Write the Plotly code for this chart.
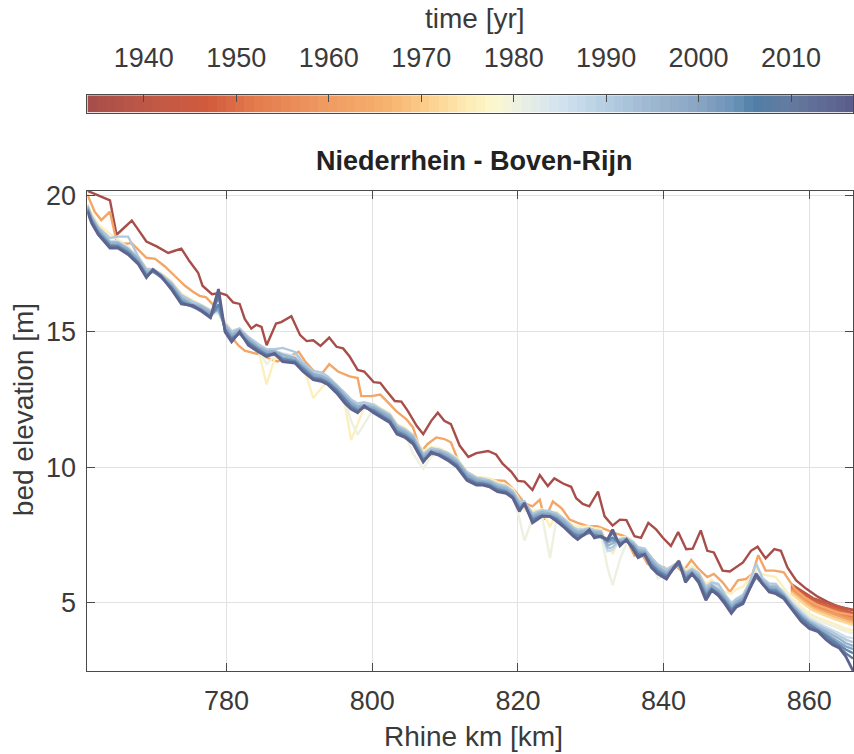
import plotly.graph_objects as go
from plotly.colors import sample_colorscale

# ---------------- data ----------------
km_red = [760.9, 764.0, 764.9, 767.0, 767.9, 769.0, 770.4, 772.0, 772.9, 773.8, 774.9, 776.1, 776.7, 778.0, 779.1,
          780.0, 780.9, 781.8, 782.5, 783.4, 784.1, 784.8, 785.5, 786.8, 787.5, 788.9, 790.1, 791.0, 791.9, 792.9,
          794.1, 795.1, 796.0, 796.9, 798.0, 798.9, 800.2, 801.1, 802.0, 803.1, 804.0, 804.9, 806.1, 807.0, 808.1,
          809.0, 809.9, 810.8, 812.0, 813.2, 814.3, 815.9, 817.0, 817.9, 819.1, 820.0, 820.9, 822.0, 823.0, 824.1,
          825.0, 826.2, 827.3, 828.0, 828.9, 829.8, 831.0, 831.9, 833.0, 834.0, 834.9, 836.0, 836.9, 837.9, 839.0,
          839.9, 841.0, 842.0, 843.1, 844.0, 845.1, 846.0, 846.9, 848.1, 849.1, 850.9, 852.0, 852.9, 854.0, 855.2,
          856.1, 857.0, 858.2, 859.6, 861.2, 862.5, 864.1, 866.0]
z_red = [20.19, 19.84, 18.57, 19.09, 18.75, 18.32, 18.14, 17.90, 17.98, 18.06, 17.60, 17.17, 16.69, 16.38, 16.42,
         16.35, 16.08, 16.02, 15.47, 15.11, 15.25, 15.17, 14.50, 15.30, 15.35, 15.57, 14.87, 14.65, 14.68, 14.47,
         14.78, 14.44, 14.38, 14.08, 13.59, 13.53, 13.14, 13.11, 12.80, 12.44, 12.42, 12.07, 11.53, 11.22, 11.71,
         12.01, 11.71, 11.59, 10.80, 10.38, 10.52, 10.60, 10.47, 10.13, 9.83, 9.50, 9.47, 9.16, 9.71, 9.31,
         9.59, 9.40, 9.28, 8.86, 8.65, 8.56, 9.10, 8.19, 7.85, 8.07, 8.05, 7.46, 7.40, 7.95, 7.70,
         7.40, 7.10, 7.61, 6.98, 7.00, 7.67, 6.92, 6.86, 6.19, 6.16, 6.49, 6.92, 7.07, 6.64, 6.98,
         6.92, 6.31, 5.83, 5.52, 5.22, 5.04, 4.85, 4.75]

km_orange = [760.9, 761.9, 762.8, 764.0, 764.9, 766.1, 767.0, 768.1, 769.0, 770.2, 771.5, 772.9, 774.3, 775.4, 776.3,
             777.2, 778.7, 779.8, 780.7, 781.6, 782.5, 783.9, 784.8, 785.9, 787.0, 788.0, 789.9, 790.8, 791.8, 792.8,
             794.1, 795.3, 796.9, 798.0, 798.5, 799.9, 801.1, 802.0, 803.3, 804.7, 805.6, 806.7, 807.6, 808.8, 809.9,
             810.8, 811.8, 813.0, 814.3, 815.4, 816.8, 818.2, 819.5, 820.9, 822.0, 823.0, 823.7, 824.8, 826.0, 827.1,
             828.2, 829.6, 830.9, 832.1, 833.2, 834.7, 836.0, 836.9, 837.8, 839.0, 840.1, 841.0, 841.7, 842.6, 843.8,
             844.8, 846.0, 846.9, 848.1, 849.1, 850.2, 851.3, 852.2, 853.0, 854.0, 855.2, 856.5, 858.0, 859.4, 860.9,
             862.4, 863.9, 866.0]
z_orange = [20.05, 19.42, 19.11, 19.42, 18.32, 18.24, 18.26, 17.96, 17.72, 17.68, 17.41, 17.05, 16.69, 16.47, 16.32,
            16.26, 15.84, 15.20, 14.80, 14.50, 14.30, 14.20, 14.14, 14.00, 13.90, 14.00, 14.26, 13.90, 13.60, 13.35,
            13.80, 13.53, 13.35, 13.29, 12.62, 12.62, 12.68, 12.44, 12.07, 11.77, 11.47, 10.56, 10.86, 11.10, 11.04,
            10.92, 10.25, 9.77, 9.59, 9.59, 9.52, 9.50, 9.16, 8.68, 8.56, 8.80, 8.07, 8.74, 8.49, 8.07,
            7.95, 7.83, 7.83, 7.70, 7.58, 7.46, 6.74, 6.86, 6.43, 6.31, 6.31, 6.13, 6.37, 6.13, 6.58,
            6.25, 5.95, 6.07, 5.76, 5.40, 5.83, 5.88, 6.07, 6.76, 6.19, 6.19, 6.13, 5.52, 5.20, 4.95,
            4.80, 4.65, 4.55]

km_main = [760.9, 761.5, 762.4, 764.0, 765.1, 766.5, 767.9, 769.0, 769.9, 771.0,
           772.4, 773.8, 775.4, 776.5, 777.8, 778.9, 779.8, 780.7, 781.8, 783.0,
           784.3, 785.5, 786.6, 787.7, 789.4, 790.5, 791.9, 793.0, 793.9, 795.1,
           796.2, 797.1, 798.0, 798.9, 800.2, 801.3, 802.4, 803.4, 804.5, 805.6,
           807.0, 808.1, 809.2, 810.4, 811.6, 813.0, 814.3, 815.2, 816.1, 817.2,
           818.4, 819.3, 820.2, 820.9, 822.0, 823.3, 824.4, 825.3, 826.4, 827.6,
           828.2, 829.1, 829.8, 830.5, 831.4, 832.3, 833.0, 834.0, 834.9, 835.8,
           836.5, 837.4, 838.3, 839.2, 840.4, 841.4, 842.1, 843.0, 843.9, 844.8,
           845.8, 846.6, 847.5, 848.4, 849.3, 850.0, 850.9, 851.8, 852.7, 853.6,
           854.5, 855.4, 856.5, 857.7, 858.9, 860.0, 861.2, 862.3, 863.2, 864.1,
           865.0, 866.0]

z_1976 = [19.70, 19.35, 18.95, 18.60, 18.40, 18.10, 17.75, 17.35, 17.30, 17.15,
          16.88, 16.40, 16.15, 16.00, 15.80, 15.85, 15.35, 15.05, 15.10, 14.82,
          14.40, 13.05, 14.00, 14.05, 14.10, 13.80, 12.55, 12.90, 13.20, 13.05,
          12.40, 11.00, 11.60, 12.20, 12.35, 12.15, 12.00, 11.60, 11.45, 11.20,
          10.60, 10.75, 10.70, 10.55, 10.35, 9.85, 9.65, 9.62, 9.60, 9.45,
          9.35, 9.20, 8.80, 8.40, 8.40, 8.45, 7.80, 8.35, 8.12, 7.85,
          7.80, 7.80, 7.82, 7.75, 7.72, 7.20, 6.80, 7.40, 7.45, 7.30,
          7.00, 6.95, 6.70, 6.35, 6.25, 6.40, 6.55, 6.20, 6.35, 6.15,
          5.70, 5.85, 5.60, 5.40, 5.35, 5.50, 5.60, 5.90, 6.25, 6.05,
          6.00, 5.95, 5.55, 5.15, 4.85, 4.60, 4.45, 4.35, 4.25, 4.15,
          4.05, 3.98]
z_1981 = [19.58, 19.15, 18.72, 18.25, 18.22, 17.98, 17.62, 17.18, 17.22, 17.05,
          16.70, 16.20, 15.98, 15.88, 15.65, 15.65, 15.18, 14.85, 15.00, 14.68,
          14.35, 13.80, 14.10, 14.00, 13.95, 13.70, 13.30, 13.28, 13.15, 12.90,
          12.55, 11.70, 11.20, 11.60, 12.15, 12.00, 11.80, 11.40, 11.28, 10.50,
          9.95, 10.40, 10.50, 10.40, 10.18, 9.70, 9.50, 9.48, 9.42, 9.25,
          9.18, 8.98, 8.10, 7.30, 8.10, 8.20, 6.65, 8.10, 7.95, 7.65,
          7.58, 7.60, 7.62, 7.55, 7.52, 6.30, 5.65, 6.60, 7.20, 7.10,
          6.85, 6.85, 6.50, 5.90, 6.05, 6.25, 6.40, 6.00, 6.15, 5.95,
          5.45, 5.60, 5.45, 5.15, 4.70, 5.00, 5.15, 5.60, 5.95, 5.78,
          5.60, 5.58, 5.45, 5.05, 4.75, 4.50, 4.35, 4.25, 4.15, 4.05,
          3.95, 3.88]
z_1986 = [19.62, 19.20, 18.80, 18.35, 18.32, 18.10, 17.70, 17.25, 17.28, 17.10,
          16.78, 16.30, 16.05, 15.95, 15.72, 15.70, 15.25, 14.95, 15.08, 14.75,
          14.50, 14.30, 14.30, 14.20, 14.10, 13.80, 13.50, 13.42, 13.30, 13.00,
          12.70, 12.45, 12.30, 12.35, 12.25, 12.08, 11.90, 11.50, 11.35, 11.12,
          10.45, 10.65, 10.60, 10.48, 10.25, 9.78, 9.58, 9.55, 9.50, 9.35,
          9.26, 9.08, 8.70, 8.70, 8.25, 8.38, 8.35, 8.25, 8.02, 7.72,
          7.65, 7.68, 7.70, 7.65, 7.60, 6.90, 6.95, 7.32, 7.38, 7.22,
          7.00, 6.95, 6.62, 6.38, 6.18, 6.35, 6.48, 6.08, 6.22, 6.05,
          5.55, 5.70, 5.62, 5.28, 4.95, 5.10, 5.25, 5.70, 6.10, 5.85,
          5.68, 5.66, 5.40, 5.00, 4.68, 4.42, 4.25, 4.12, 4.00, 3.88,
          3.75, 3.70]
z_1991 = [19.65, 19.25, 18.85, 18.45, 18.50, 18.50, 17.75, 17.30, 17.30, 17.12,
          16.82, 16.35, 16.10, 15.98, 15.78, 15.75, 15.30, 15.00, 15.12, 14.80,
          14.55, 14.35, 14.35, 14.40, 14.25, 13.85, 13.55, 13.50, 13.35, 13.05,
          12.75, 12.50, 12.35, 12.40, 12.30, 12.12, 11.95, 11.55, 11.40, 11.18,
          10.50, 10.70, 10.65, 10.52, 10.30, 9.82, 9.62, 9.58, 9.52, 9.38,
          9.30, 9.12, 8.75, 8.75, 8.30, 8.42, 8.38, 8.30, 8.08, 7.78,
          7.70, 7.72, 7.75, 7.68, 7.65, 7.00, 7.05, 7.35, 7.40, 7.25,
          7.05, 7.00, 6.68, 6.42, 6.22, 6.40, 6.50, 6.12, 6.25, 6.10,
          5.60, 5.75, 5.70, 5.32, 5.00, 5.15, 5.30, 5.75, 6.45, 5.90,
          5.72, 5.70, 5.35, 4.95, 4.62, 4.35, 4.18, 4.05, 3.92, 3.78,
          3.65, 3.55]
z_1996 = [19.60, 19.18, 18.78, 18.30, 18.28, 18.05, 17.68, 17.20, 17.25, 17.08,
          16.75, 16.25, 16.00, 15.92, 15.70, 15.80, 15.22, 14.90, 15.05, 14.72,
          14.45, 14.28, 14.28, 14.15, 14.02, 13.75, 13.45, 13.38, 13.25, 12.98,
          12.65, 12.40, 12.25, 12.30, 12.22, 12.05, 11.88, 11.48, 11.32, 11.10,
          10.42, 10.62, 10.58, 10.45, 10.22, 9.75, 9.55, 9.50, 9.46, 9.30,
          9.22, 9.05, 8.65, 8.68, 8.22, 8.35, 8.30, 8.22, 8.00, 7.70,
          7.62, 7.65, 7.68, 7.62, 7.58, 7.10, 7.20, 7.30, 7.35, 7.18,
          6.95, 6.92, 6.58, 6.32, 6.12, 6.32, 6.45, 6.05, 6.18, 6.00,
          5.48, 5.65, 5.50, 5.22, 4.90, 5.05, 5.20, 5.65, 6.05, 5.82,
          5.62, 5.60, 5.30, 4.90, 4.55, 4.30, 4.10, 3.95, 3.82, 3.68,
          3.52, 3.42]
z_2000 = [19.55, 19.12, 18.70, 18.22, 18.20, 17.98, 17.60, 17.12, 17.20, 17.05,
          16.70, 16.18, 15.95, 15.85, 15.62, 15.85, 15.15, 14.82, 14.98, 14.65,
          14.40, 14.20, 14.22, 14.05, 13.95, 13.68, 13.38, 13.30, 13.18, 12.90,
          12.58, 12.32, 12.18, 12.25, 12.15, 11.98, 11.80, 11.40, 11.25, 11.02,
          10.35, 10.55, 10.52, 10.38, 10.15, 9.68, 9.48, 9.45, 9.40, 9.24,
          9.15, 8.98, 8.58, 8.62, 8.15, 8.28, 8.25, 8.15, 7.92, 7.62,
          7.55, 7.58, 7.62, 7.55, 7.50, 7.22, 7.30, 7.25, 7.30, 7.12,
          6.88, 6.85, 6.50, 6.25, 6.05, 6.28, 6.42, 5.98, 6.12, 5.92,
          5.38, 5.58, 5.42, 5.15, 4.82, 4.98, 5.12, 5.58, 5.98, 5.75,
          5.55, 5.52, 5.25, 4.85, 4.50, 4.25, 4.05, 3.88, 3.72, 3.55,
          3.40, 3.30]
z_2005 = [19.50, 19.08, 18.65, 18.18, 18.15, 17.92, 17.55, 17.08, 17.22, 17.00,
          16.65, 16.12, 15.90, 15.80, 15.55, 16.00, 15.08, 14.75, 14.92, 14.60,
          14.35, 14.15, 14.18, 13.98, 13.90, 13.62, 13.30, 13.25, 13.12, 12.85,
          12.50, 12.25, 12.10, 12.20, 12.10, 11.92, 11.72, 11.32, 11.18, 10.95,
          10.28, 10.50, 10.48, 10.32, 10.10, 9.60, 9.42, 9.40, 9.35, 9.18,
          9.10, 8.92, 8.50, 8.60, 8.08, 8.22, 8.20, 8.10, 7.85, 7.55,
          7.48, 7.52, 7.58, 7.50, 7.45, 7.28, 7.40, 7.20, 7.28, 7.08,
          6.80, 6.80, 6.42, 6.18, 5.98, 6.25, 6.45, 5.90, 6.08, 5.85,
          5.28, 5.52, 5.35, 5.08, 4.75, 4.92, 5.05, 5.52, 5.95, 5.70,
          5.48, 5.45, 5.22, 4.80, 4.45, 4.20, 4.00, 3.80, 3.62, 3.45,
          3.28, 3.15]
z_2010 = [19.45, 19.02, 18.60, 18.12, 18.10, 17.86, 17.50, 17.02, 17.25, 17.02,
          16.60, 16.05, 15.92, 15.75, 15.50, 16.30, 15.02, 14.68, 14.95, 14.55,
          14.30, 14.10, 14.15, 13.92, 13.86, 13.55, 13.25, 13.20, 13.08, 12.78,
          12.42, 12.18, 12.05, 12.22, 12.05, 11.86, 11.68, 11.25, 11.12, 10.90,
          10.22, 10.52, 10.45, 10.28, 10.05, 9.55, 9.38, 9.36, 9.30, 9.12,
          9.06, 8.88, 8.42, 8.62, 8.00, 8.20, 8.18, 8.05, 7.80, 7.50,
          7.40, 7.50, 7.62, 7.45, 7.42, 7.30, 7.60, 7.15, 7.30, 7.02,
          6.72, 6.78, 6.35, 6.12, 5.92, 6.28, 6.50, 5.82, 6.05, 5.80,
          5.18, 5.48, 5.30, 5.02, 4.68, 4.88, 5.00, 5.50, 6.00, 5.68,
          5.42, 5.38, 5.20, 4.76, 4.38, 4.12, 3.98, 3.72, 3.55, 3.38,
          3.15, 2.95]
z_2015 = [19.42, 18.99, 18.57, 18.08, 18.08, 17.84, 17.48, 16.99, 17.29, 17.05,
          16.57, 16.02, 15.96, 15.78, 15.53, 16.57, 14.99, 14.62, 14.99, 14.50,
          14.26, 14.08, 14.20, 13.89, 13.84, 13.53, 13.23, 13.17, 13.05, 12.74,
          12.38, 12.14, 12.01, 12.26, 12.01, 11.83, 11.65, 11.22, 11.10, 10.86,
          10.19, 10.56, 10.43, 10.25, 10.01, 9.52, 9.34, 9.34, 9.28, 9.10,
          9.04, 8.86, 8.37, 8.68, 7.95, 8.19, 8.19, 8.01, 7.77, 7.46,
          7.34, 7.52, 7.70, 7.40, 7.46, 7.34, 7.70, 7.10, 7.34, 6.98,
          6.67, 6.79, 6.31, 6.07, 5.88, 6.31, 6.55, 5.76, 6.07, 5.76,
          5.10, 5.46, 5.28, 4.97, 4.61, 4.85, 4.97, 5.52, 6.07, 5.70,
          5.40, 5.34, 5.16, 4.73, 4.31, 4.06, 3.94, 3.64, 3.46, 3.34,
          3.03, 2.50]

# short surveys of the downstream reach (Boven-Rijn)
km_tail = [857.5, 858.5, 859.5, 860.5, 861.5, 862.5, 863.5, 864.5, 865.3, 866.0]
z_1941 = [5.70, 5.52, 5.35, 5.18, 5.08, 4.98, 4.92, 4.85, 4.78, 4.72]
z_1945 = [5.62, 5.45, 5.28, 5.12, 5.02, 4.90, 4.85, 4.76, 4.70, 4.62]
z_1949 = [5.58, 5.40, 5.20, 5.05, 4.95, 4.86, 4.78, 4.68, 4.62, 4.55]
z_1953 = [5.55, 5.35, 5.15, 4.98, 4.88, 4.80, 4.70, 4.60, 4.55, 4.48]
z_1957 = [5.50, 5.30, 5.10, 4.92, 4.82, 4.72, 4.62, 4.52, 4.46, 4.40]
z_1961 = [5.46, 5.25, 5.05, 4.86, 4.75, 4.66, 4.55, 4.46, 4.40, 4.33]
z_1968 = [5.40, 5.18, 4.98, 4.80, 4.68, 4.58, 4.48, 4.38, 4.32, 4.25]
z_1972 = [5.35, 5.12, 4.90, 4.72, 4.60, 4.50, 4.40, 4.30, 4.24, 4.18]

series = [
    (1934.5, km_red, z_red),
    (1941, km_tail, z_1941),
    (1945, km_tail, z_1945),
    (1949, km_tail, z_1949),
    (1953, km_tail, z_1953),
    (1957, km_tail, z_1957),
    (1961, km_tail, z_1961),
    (1963, km_orange, z_orange),
    (1968, km_tail, z_1968),
    (1972, km_tail, z_1972),
    (1976, km_main, z_1976),
    (1980.5, km_main, z_1981),
    (1986, km_main, z_1986),
    (1991, km_main, z_1991),
    (1996, km_main, z_1996),
    (2000, km_main, z_2000),
    (2005, km_main, z_2005),
    (2010, km_main, z_2010),
    (2015, km_main, z_2015),
]

x_ticks = [780, 800, 820, 840, 860]
y_ticks = [5, 10, 15, 20]
cb_ticks = [1940, 1950, 1960, 1970, 1980, 1990, 2000, 2010]
T_MIN, T_MAX = 1933.9, 2016.7
cb_years = [1934.4 + i for i in range(83)]

cscale = [
    [0.000, "rgb(166,77,74)"], [0.074, "rgb(189,88,71)"], [0.158, "rgb(209,91,61)"],
    [0.218, "rgb(227,122,77)"], [0.315, "rgb(240,156,99)"], [0.388, "rgb(246,176,108)"],
    [0.448, "rgb(252,208,142)"], [0.496, "rgb(253,235,179)"], [0.532, "rgb(252,248,207)"],
    [0.569, "rgb(233,239,228)"], [0.617, "rgb(211,227,239)"], [0.677, "rgb(181,206,226)"],
    [0.738, "rgb(157,183,208)"], [0.798, "rgb(138,165,195)"], [0.846, "rgb(106,146,184)"],
    [0.870, "rgb(79,127,166)"], [0.918, "rgb(101,122,160)"], [1.000, "rgb(91,93,137)"],
]

FONT = "Liberation Sans, Arial, sans-serif"
TXT = "#3a3a3a"
AX = "#4a4a4a"
GRID = "#e2e2e2"
TICK_SIZE = 27
LABEL_SIZE = 28

fig = go.Figure()

for yr, kx, zz in series:
    col = sample_colorscale(cscale, [(yr - T_MIN) / (T_MAX - T_MIN)])[0]
    fig.add_trace(go.Scatter(x=kx, y=zz, mode="lines",
                             line=dict(color=col, width=2.8 if yr >= 2014 else 2.4),
                             showlegend=False, hoverinfo="skip"))

fig.add_trace(go.Heatmap(x=cb_years, y=[0.5], z=[cb_years], colorscale=cscale,
                         zmin=T_MIN, zmax=T_MAX, showscale=False,
                         xaxis="x2", yaxis="y2", hoverinfo="skip"))

W, H = 854, 754
xd = [87.5 / W, 1.0]
fig.update_layout(
    width=W, height=H, margin=dict(l=0, r=0, t=0, b=0),
    paper_bgcolor="white", plot_bgcolor="white",
    font=dict(family=FONT, size=TICK_SIZE, color=TXT),
    xaxis=dict(domain=xd, range=[760.9, 866.0], tickvals=x_ticks,
               showgrid=True, gridcolor=GRID, gridwidth=1, zeroline=False,
               showline=True, linecolor=AX, linewidth=1, mirror="ticks",
               ticks="inside", ticklen=8, tickcolor=AX,
               tickfont=dict(size=TICK_SIZE, color=TXT), ticklabelstandoff=6),
    yaxis=dict(domain=[84 / H, 570 / H], range=[2.49, 20.19], tickvals=y_ticks,
               showgrid=True, gridcolor=GRID, gridwidth=1, zeroline=False,
               showline=True, linecolor=AX, linewidth=1, mirror="ticks",
               ticks="inside", ticklen=8, tickcolor=AX,
               tickfont=dict(size=TICK_SIZE, color=TXT), ticklabelstandoff=5),
    xaxis2=dict(domain=xd, anchor="y2", side="top", range=[T_MIN, T_MAX],
                tickvals=cb_ticks, ticks="inside", ticklen=7, tickcolor=AX,
                showline=True, linecolor=AX, linewidth=1, mirror=True,
                showgrid=False, zeroline=False,
                tickfont=dict(size=TICK_SIZE, color=TXT), ticklabelstandoff=16),
    yaxis2=dict(domain=[(H - 105) / H, (H - 87.3) / H], anchor="x2", range=[0, 1],
                showticklabels=False, ticks="", showgrid=False, zeroline=False,
                showline=True, linecolor=AX, linewidth=1, mirror=True),
    annotations=[
        dict(text="<b>Niederrhein - Boven-Rijn</b>", x=475 / W, y=(H - 154) / H,
             xref="paper", yref="paper", showarrow=False,
             font=dict(size=27, color="#222222"), xanchor="center", yanchor="middle"),
        dict(text="Rhine km [km]", x=474 / W, y=(H - 736) / H, xref="paper", yref="paper",
             showarrow=False, font=dict(size=LABEL_SIZE, color=TXT), xanchor="center", yanchor="middle"),
        dict(text="bed elevation [m]", x=23 / W, y=(H - 405) / H, xref="paper", yref="paper",
             showarrow=False, textangle=-90, font=dict(size=LABEL_SIZE, color=TXT),
             xanchor="center", yanchor="middle"),
        dict(text="time [yr]", x=476 / W, y=(H - 10) / H, xref="paper", yref="paper",
             showarrow=False, font=dict(size=LABEL_SIZE, color=TXT), xanchor="center", yanchor="middle"),
    ],
)

fig.write_html("out.html")
